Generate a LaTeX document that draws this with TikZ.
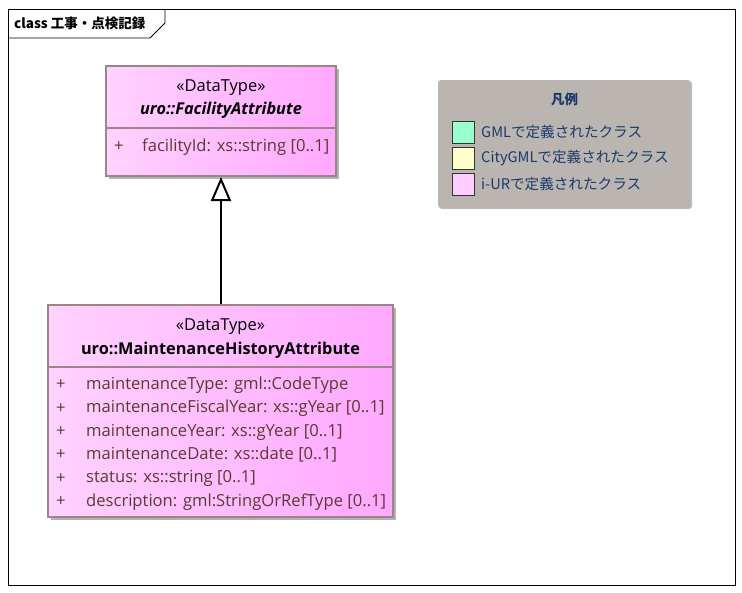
\documentclass[tikz,border=0pt]{standalone}
\usepackage{fontspec}
\setmainfont{Open Sans}
\newfontfamily\jp{Noto Sans CJK JP}
\usetikzlibrary{arrows.meta}
\definecolor{pinkL}{HTML}{FFD2FF}
\definecolor{pinkR}{HTML}{FFA8FF}
\definecolor{boxline}{HTML}{9C8585}
\definecolor{attrcol}{HTML}{5C3B2E}
\definecolor{legfill}{HTML}{BAB5B1}
\definecolor{legtext}{HTML}{1B3A6B}
\definecolor{swgreen}{HTML}{99FFCC}
\definecolor{swyellow}{HTML}{FFFFCC}
\definecolor{swpink}{HTML}{FFCCFF}
\tikzset{
  classbox/.style={draw=boxline, line width=2pt, left color=pinkL, right color=pinkR, shading angle=90, inner sep=0pt},
  shadowbox/.style={fill=black!30, draw=none, inner sep=0pt},
  sep/.style={draw=boxline, line width=1.5pt},
  stereo/.style={font=\fontsize{16.5}{18}\selectfont, inner sep=0pt},
  cname/.style={font=\fontsize{16.3}{18}\selectfont\bfseries, inner sep=0pt},
  attr/.style={font=\fontsize{16.6}{18}\selectfont, text=attrcol, anchor=west, inner sep=0pt},
  legtxt/.style={font=\jp\fontsize{14.6}{16}\selectfont, text=legtext, anchor=west, inner sep=0pt},
  swatch/.style={draw=black!80, line width=1pt, minimum width=22pt, minimum height=22pt, inner sep=0pt},
  gen/.style={line width=2pt, -{Triangle[open, fill=white, length=24pt, width=20pt, line width=2pt]}}
}
\begin{document}
\begin{tikzpicture}[x=1pt, y=-1pt]
\useasboundingbox (0,0) rectangle (742,592);
% frame
\draw[black, line width=0.8pt, fill=white] (8,9) rectangle (735,585);
\draw[black, line width=0.8pt] (8,38) -- (150,38) -- (165,23) -- (165,9);
\node[font=\jp\fontsize{13.5}{15}\selectfont\bfseries, anchor=west, inner sep=0pt] (title) at (14,23) {class 工事・点検記録};

% FacilityAttribute
\node[shadowbox, minimum width=230pt, minimum height=110pt] (fash) at (224,124) {};
\node[classbox, minimum width=230pt, minimum height=110pt] (fa) at (221,121) {};
\draw[sep] (106,128) -- (336,128);
\node[stereo] (fast) at (221,88) {«DataType»};
\node[cname, font=\fontsize{16.3}{18}\selectfont\bfseries\itshape] (fanm) at (221,110) {uro::FacilityAttribute};
\node[attr] (fap) at (114,147) {+};
\node[attr] (fa1) at (142,147) {facilityId: xs::string [0..1]};

% MaintenanceHistoryAttribute
\node[shadowbox, minimum width=345pt, minimum height=212pt] (mhsh) at (223.5,414) {};
\node[classbox, minimum width=345pt, minimum height=212pt] (mh) at (220.5,411) {};
\draw[sep] (48,367) -- (393,367);
\node[stereo] (mhst) at (220.5,327) {«DataType»};
\node[cname] (mhnm) at (220.5,350) {uro::MaintenanceHistoryAttribute};
\foreach \y/\t [count=\i] in {385/{maintenanceType: gml::CodeType},
  408.5/{maintenanceFiscalYear: xs::gYear [0..1]},
  432/{maintenanceYear: xs::gYear [0..1]},
  455/{maintenanceDate: xs::date [0..1]},
  478.5/{status: xs::string [0..1]},
  502/{description: gml:StringOrRefType [0..1]}}{
  \node[attr] (mhp\i) at (56,\y) {+};
  \node[attr] (mha\i) at (86,\y) {\t};
}

% generalization
\draw[gen] (mh.north -| fa.south) -- (fa.south);

% legend
\node[fill=black!25, rounded corners=3pt, minimum width=253pt, minimum height=128pt, inner sep=0pt] (legsh) at (565.5,145) {};
\node[fill=legfill, rounded corners=3pt, minimum width=253pt, minimum height=128pt, inner sep=0pt] (leg) at (564.5,144) {};
\node[font=\jp\fontsize{13.5}{15}\selectfont\bfseries, text=legtext, inner sep=0pt] (legt) at (564.5,99) {凡例};
\node[swatch, fill=swgreen] (sw1) at (463.5,132) {};
\node[swatch, fill=swyellow] (sw2) at (463.5,158) {};
\node[swatch, fill=swpink] (sw3) at (463.5,184) {};
\node[legtxt] (lt1) at (481,132) {GMLで定義されたクラス};
\node[legtxt] (lt2) at (481,158) {CityGMLで定義されたクラス};
\node[legtxt] (lt3) at (481,184) {i-URで定義されたクラス};
\end{tikzpicture}
\end{document}
